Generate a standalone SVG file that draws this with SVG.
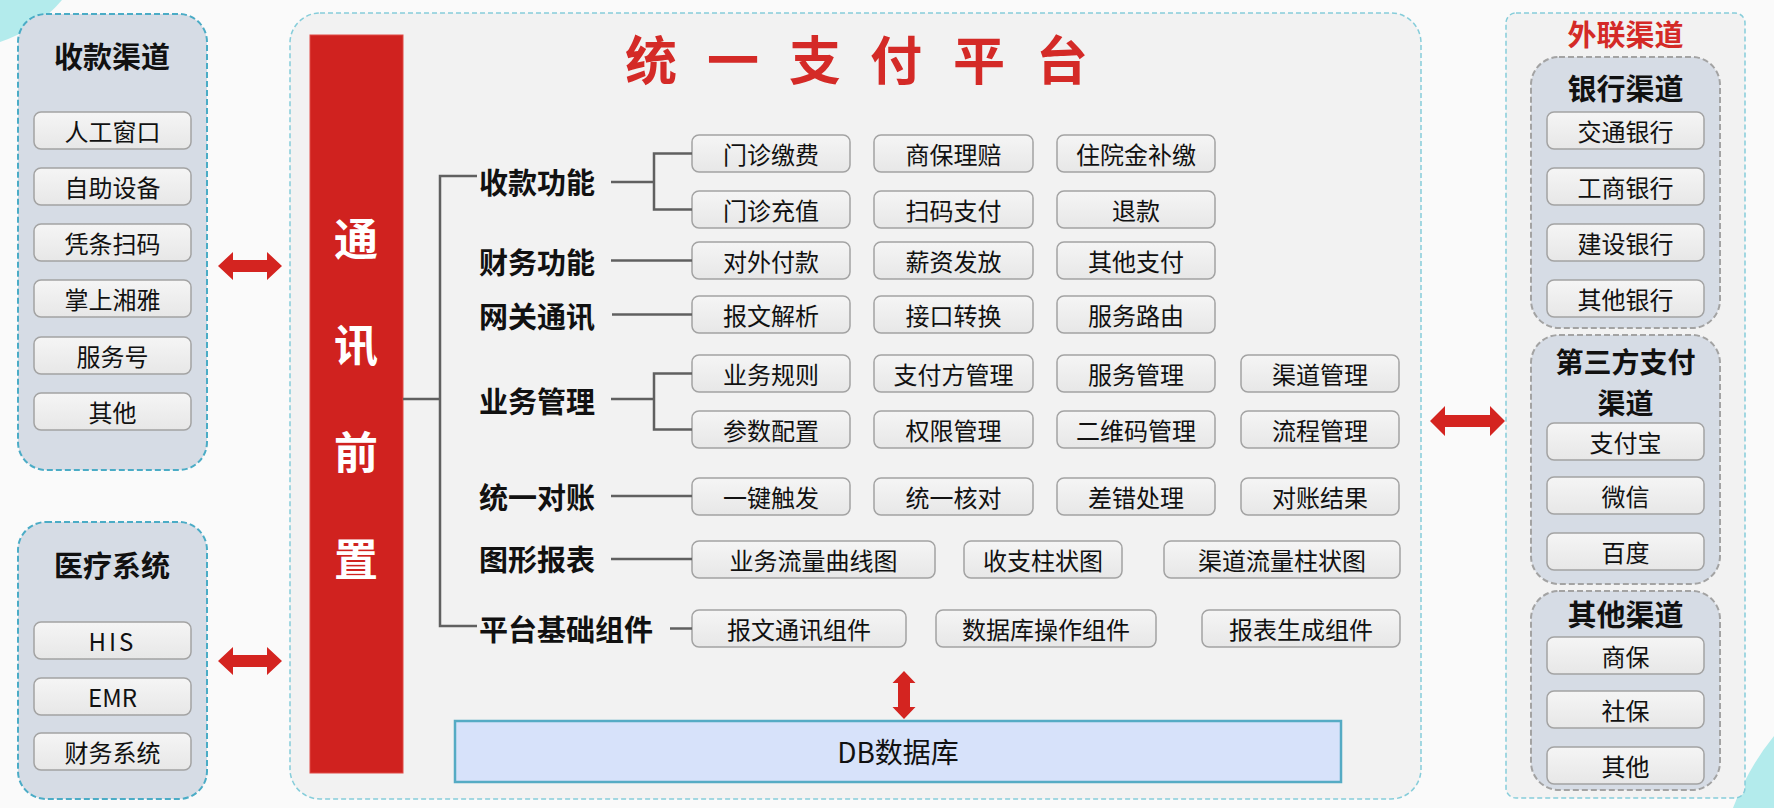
<svg xmlns="http://www.w3.org/2000/svg" width="1774" height="808" viewBox="0 0 1774 808">
<defs>
<linearGradient id="boxg" x1="0" y1="0" x2="0" y2="1">
<stop offset="0" stop-color="#f5f5f5"/>
<stop offset="1" stop-color="#e7e7e7"/>
</linearGradient>
<style>
text{font-family:"Noto Sans CJK SC","Noto Sans",sans-serif;dominant-baseline:central;text-anchor:middle;}
.box{fill:url(#boxg);stroke:#a3a3a3;stroke-width:1.5;}
.bt{font-size:24px;fill:#111;}
.cat{font-size:29px;font-weight:700;fill:#111;text-anchor:start;}
.gt{font-size:29px;font-weight:700;fill:#111;}
.lpanel{fill:#d6dce5;stroke:#4bacc6;stroke-width:2;stroke-dasharray:6 3;}
.rgroup{fill:#d6dce5;stroke:#a3a3a3;stroke-width:2;stroke-dasharray:6 3;}
.outer{fill:#f2f2f2;stroke:#86cdda;stroke-width:1.5;stroke-dasharray:5 3;}
.ln{fill:none;stroke:#606060;stroke-width:2.5;}
.arr{fill:#d42420;}
</style>
</defs>
<rect x="0" y="0" width="1774" height="808" fill="#fafafa"/>
<path d="M0,0 H62 A140,140 0 0 1 0,42 Z" fill="#b3ebec"/>
<path d="M1733,808 Q1748,768 1774,736 V808 Z" fill="#b3ebec"/>

<g id="left-pay-channels">
<rect class="lpanel" x="18" y="14" width="189" height="456" rx="28"/>
<text class="gt" x="112" y="55">收款渠道</text>
<rect class="box" x="34" y="112" width="157" height="37" rx="7"/><text class="bt" x="112.5" y="130.5">人工窗口</text>
<rect class="box" x="34" y="168" width="157" height="37" rx="7"/><text class="bt" x="112.5" y="186.5">自助设备</text>
<rect class="box" x="34" y="224" width="157" height="37" rx="7"/><text class="bt" x="112.5" y="242.5">凭条扫码</text>
<rect class="box" x="34" y="280" width="157" height="37" rx="7"/><text class="bt" x="112.5" y="298.5">掌上湘雅</text>
<rect class="box" x="34" y="337" width="157" height="37" rx="7"/><text class="bt" x="112.5" y="355.5">服务号</text>
<rect class="box" x="34" y="393" width="157" height="37" rx="7"/><text class="bt" x="112.5" y="411.5">其他</text>
</g>

<g id="left-medical-systems">
<rect class="lpanel" x="18" y="522" width="189" height="277" rx="28"/>
<text class="gt" x="112" y="564">医疗系统</text>
<rect class="box" x="34" y="622" width="157" height="37" rx="7"/><text class="bt" x="112.5" y="640.5" style="letter-spacing:3px">HIS</text>
<rect class="box" x="34" y="678" width="157" height="37" rx="7"/><text class="bt" x="112.5" y="696.5">EMR</text>
<rect class="box" x="34" y="733" width="157" height="37" rx="7"/><text class="bt" x="112.5" y="751.5">财务系统</text>
</g>

<g id="platform">
<rect class="outer" x="290" y="13" width="1131" height="786" rx="30"/>
<text x="625 677 707 759 789 841 870 922 953 1005 1036" y="57" style="font-size:52px;font-weight:700;fill:#d42a27;text-anchor:start">统 一 支 付 平 台</text>
</g>

<g id="comm-front">
<rect x="310" y="35" width="93" height="738" fill="#d0221f" stroke="#e04a46" stroke-width="1"/>
<text x="356" y="237" style="font-size:44px;font-weight:700;fill:#fff">通</text>
<text x="356" y="343" style="font-size:44px;font-weight:700;fill:#fff">讯</text>
<text x="356" y="450" style="font-size:44px;font-weight:700;fill:#fff">前</text>
<text x="356" y="557" style="font-size:44px;font-weight:700;fill:#fff">置</text>
</g>

<g id="categories">
<text class="cat" x="479" y="181">收款功能</text>
<text class="cat" x="479" y="261">财务功能</text>
<text class="cat" x="479" y="315">网关通讯</text>
<text class="cat" x="479" y="400">业务管理</text>
<text class="cat" x="479" y="496">统一对账</text>
<text class="cat" x="479" y="558">图形报表</text>
<text class="cat" x="479" y="628">平台基础组件</text>
</g>

<g id="func-collect">
<rect class="box" x="692" y="135" width="158" height="37" rx="7"/><text class="bt" x="771" y="153.5">门诊缴费</text>
<rect class="box" x="874" y="135" width="159" height="37" rx="7"/><text class="bt" x="953.5" y="153.5">商保理赔</text>
<rect class="box" x="1057" y="135" width="158" height="37" rx="7"/><text class="bt" x="1136" y="153.5">住院金补缴</text>
<rect class="box" x="692" y="191" width="158" height="37" rx="7"/><text class="bt" x="771" y="209.5">门诊充值</text>
<rect class="box" x="874" y="191" width="159" height="37" rx="7"/><text class="bt" x="953.5" y="209.5">扫码支付</text>
<rect class="box" x="1057" y="191" width="158" height="37" rx="7"/><text class="bt" x="1136" y="209.5">退款</text>
</g>
<g id="func-finance">
<rect class="box" x="692" y="242" width="158" height="37" rx="7"/><text class="bt" x="771" y="260.5">对外付款</text>
<rect class="box" x="874" y="242" width="159" height="37" rx="7"/><text class="bt" x="953.5" y="260.5">薪资发放</text>
<rect class="box" x="1057" y="242" width="158" height="37" rx="7"/><text class="bt" x="1136" y="260.5">其他支付</text>
</g>
<g id="func-gateway">
<rect class="box" x="692" y="296" width="158" height="37" rx="7"/><text class="bt" x="771" y="314.5">报文解析</text>
<rect class="box" x="874" y="296" width="159" height="37" rx="7"/><text class="bt" x="953.5" y="314.5">接口转换</text>
<rect class="box" x="1057" y="296" width="158" height="37" rx="7"/><text class="bt" x="1136" y="314.5">服务路由</text>
</g>
<g id="func-business">
<rect class="box" x="692" y="355" width="158" height="37" rx="7"/><text class="bt" x="771" y="373.5">业务规则</text>
<rect class="box" x="874" y="355" width="159" height="37" rx="7"/><text class="bt" x="953.5" y="373.5">支付方管理</text>
<rect class="box" x="1057" y="355" width="158" height="37" rx="7"/><text class="bt" x="1136" y="373.5">服务管理</text>
<rect class="box" x="1241" y="355" width="158" height="37" rx="7"/><text class="bt" x="1320" y="373.5">渠道管理</text>
<rect class="box" x="692" y="411" width="158" height="37" rx="7"/><text class="bt" x="771" y="429.5">参数配置</text>
<rect class="box" x="874" y="411" width="159" height="37" rx="7"/><text class="bt" x="953.5" y="429.5">权限管理</text>
<rect class="box" x="1057" y="411" width="158" height="37" rx="7"/><text class="bt" x="1136" y="429.5">二维码管理</text>
<rect class="box" x="1241" y="411" width="158" height="37" rx="7"/><text class="bt" x="1320" y="429.5">流程管理</text>
</g>
<g id="func-reconcile">
<rect class="box" x="692" y="478" width="158" height="37" rx="7"/><text class="bt" x="771" y="496.5">一键触发</text>
<rect class="box" x="874" y="478" width="159" height="37" rx="7"/><text class="bt" x="953.5" y="496.5">统一核对</text>
<rect class="box" x="1057" y="478" width="158" height="37" rx="7"/><text class="bt" x="1136" y="496.5">差错处理</text>
<rect class="box" x="1241" y="478" width="158" height="37" rx="7"/><text class="bt" x="1320" y="496.5">对账结果</text>
</g>
<g id="func-report">
<rect class="box" x="692" y="541" width="243" height="37" rx="7"/><text class="bt" x="813.5" y="559.5">业务流量曲线图</text>
<rect class="box" x="964" y="541" width="158" height="37" rx="7"/><text class="bt" x="1043" y="559.5">收支柱状图</text>
<rect class="box" x="1164" y="541" width="236" height="37" rx="7"/><text class="bt" x="1282" y="559.5">渠道流量柱状图</text>
</g>
<g id="func-base">
<rect class="box" x="692" y="610" width="214" height="37" rx="7"/><text class="bt" x="799" y="628.5">报文通讯组件</text>
<rect class="box" x="936" y="610" width="220" height="37" rx="7"/><text class="bt" x="1046" y="628.5">数据库操作组件</text>
<rect class="box" x="1202" y="610" width="198" height="37" rx="7"/><text class="bt" x="1301" y="628.5">报表生成组件</text>
</g>

<g id="database">
<rect x="455" y="721" width="886" height="61" fill="#d7e2fa" stroke="#55abc4" stroke-width="2.5"/>
<text x="898" y="751" style="font-size:28px;fill:#111">DB数据库</text>
</g>

<g id="external-channels">
<rect x="1506" y="13" width="239" height="785" rx="10" fill="#f2f2f2" stroke="#86cdda" stroke-width="1.5" stroke-dasharray="5 3"/>
<text x="1625.5" y="33" style="font-size:29px;font-weight:700;fill:#d42a27">外联渠道</text>
</g>
<g id="bank-channels">
<rect class="rgroup" x="1531" y="57" width="189" height="271" rx="28"/>
<text class="gt" x="1625.5" y="87">银行渠道</text>
<rect class="box" x="1547" y="112" width="157" height="37" rx="7"/><text class="bt" x="1625.5" y="130.5">交通银行</text>
<rect class="box" x="1547" y="168" width="157" height="37" rx="7"/><text class="bt" x="1625.5" y="186.5">工商银行</text>
<rect class="box" x="1547" y="224" width="157" height="37" rx="7"/><text class="bt" x="1625.5" y="242.5">建设银行</text>
<rect class="box" x="1547" y="280" width="157" height="37" rx="7"/><text class="bt" x="1625.5" y="298.5">其他银行</text>
</g>
<g id="third-party-channels">
<rect class="rgroup" x="1531" y="335" width="189" height="249" rx="28"/>
<text class="gt" x="1625.5" y="361" style="font-size:28px">第三方支付</text>
<text class="gt" x="1625.5" y="402" style="font-size:28px">渠道</text>
<rect class="box" x="1547" y="423" width="157" height="37" rx="7"/><text class="bt" x="1625.5" y="441.5">支付宝</text>
<rect class="box" x="1547" y="477" width="157" height="37" rx="7"/><text class="bt" x="1625.5" y="495.5">微信</text>
<rect class="box" x="1547" y="533" width="157" height="37" rx="7"/><text class="bt" x="1625.5" y="551.5">百度</text>
</g>
<g id="other-channels">
<rect class="rgroup" x="1531" y="591" width="189" height="199" rx="28"/>
<text class="gt" x="1625.5" y="613">其他渠道</text>
<rect class="box" x="1547" y="637" width="157" height="37" rx="7"/><text class="bt" x="1625.5" y="655.5">商保</text>
<rect class="box" x="1547" y="691" width="157" height="37" rx="7"/><text class="bt" x="1625.5" y="709.5">社保</text>
<rect class="box" x="1547" y="747" width="157" height="37" rx="7"/><text class="bt" x="1625.5" y="765.5">其他</text>
</g>

<g id="connectors">
<path class="ln" d="M477,176 H440 V626 H477"/>
<path class="ln" d="M403,399 H440"/>
<path class="ln" d="M611,182 H654 M692,153.5 H654 V209.5 H692"/>
<path class="ln" d="M611,260.5 H692"/>
<path class="ln" d="M612,314.5 H692"/>
<path class="ln" d="M611,399 H654 M692,373.5 H654 V429.5 H692"/>
<path class="ln" d="M611,496 H692"/>
<path class="ln" d="M611,559 H692"/>
<path class="ln" d="M670,628.5 H692"/>
<polygon class="arr" points="218,266 233,252 233,260 267,260 267,252 282,266 267,280 267,272 233,272 233,280"/>
<polygon class="arr" points="218,661 233,647 233,655 267,655 267,647 282,661 267,675 267,667 233,667 233,675"/>
<polygon class="arr" points="1430,421 1445,406 1445,415 1490,415 1490,406 1505,421 1490,436 1490,427 1445,427 1445,436"/>
<polygon class="arr" points="904,671 915.5,683 910,683 910,707 915.5,707 904,719 892.5,707 898,707 898,683 892.5,683"/>
</g>
</svg>
